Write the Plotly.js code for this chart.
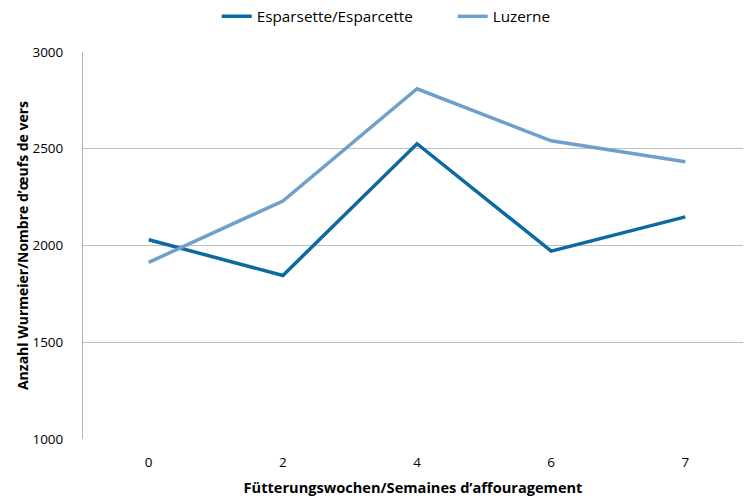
<!DOCTYPE html>
<html>
<head>
<meta charset="utf-8">
<script src="https://cdn.plot.ly/plotly-3.0.1.min.js"></script>
<style>html,body{margin:0;padding:0;background:#fff;}#chart{width:744px;height:501px;}</style>
</head>
<body>
<div id="chart"></div>
<script>
const weeks = ["0", "2", "4", "6", "7"];
const esparsette = [2030, 1845, 2526, 1971, 2148];
const luzerne = [1913, 2230, 2810, 2541, 2433];
const seriesNames = ["Esparsette/Esparcette", "Luzerne"];
const yTicks = [1000, 1500, 2000, 2500, 3000];

const FONT = "'Open Sans', Arial, sans-serif";

const traces = [
  {x: weeks, y: esparsette, name: seriesNames[0], type: "scatter", mode: "lines",
   line: {color: "#0b6aa2", width: 3.5}},
  {x: weeks, y: luzerne, name: seriesNames[1], type: "scatter", mode: "lines",
   line: {color: "#6ea0cb", width: 3.5}}
];

const layout = {
  width: 744, height: 501,
  margin: {l: 83, r: 1, t: 52, b: 62, autoexpand: false},
  paper_bgcolor: "#fff", plot_bgcolor: "#fff",
  font: {family: FONT, size: 13.5, color: "#000"},
  showlegend: true,
  legend: {orientation: "h", x: 0.2026, xanchor: "left", y: 1.092, yanchor: "middle",
           font: {family: FONT, size: 15.3}, traceorder: "normal", itemwidth: 30,
           entrywidth: 191, entrywidthmode: "pixels"},
  xaxis: {type: "category", range: [-0.49, 4.43], showgrid: false, zeroline: false,
          showline: false, ticks: "", tickfont: {family: FONT, size: 13.5}, ticklabelstandoff: 13,
          automargin: false,
          title: {text: "<b>Fütterungswochen/Semaines d’affouragement</b>", font: {family: FONT, size: 14.6}, standoff: 13}},
  yaxis: {range: [1000, 3000], tickvals: yTicks, showgrid: true, gridcolor: "#bfbfbf", gridwidth: 1,
          zeroline: false, showline: true, linecolor: "#b3b3b3", linewidth: 1, ticks: "",
          automargin: false,
          tickfont: {family: FONT, size: 13.5}, ticklabelstandoff: 16,
          title: {text: "<b>Anzahl Wurmeier/Nombre d’œufs de vers</b>", font: {family: FONT, size: 14}, standoff: 0}}
};

Plotly.newPlot("chart", traces, layout, {displayModeBar: false, staticPlot: true});
</script>
</body>
</html>
